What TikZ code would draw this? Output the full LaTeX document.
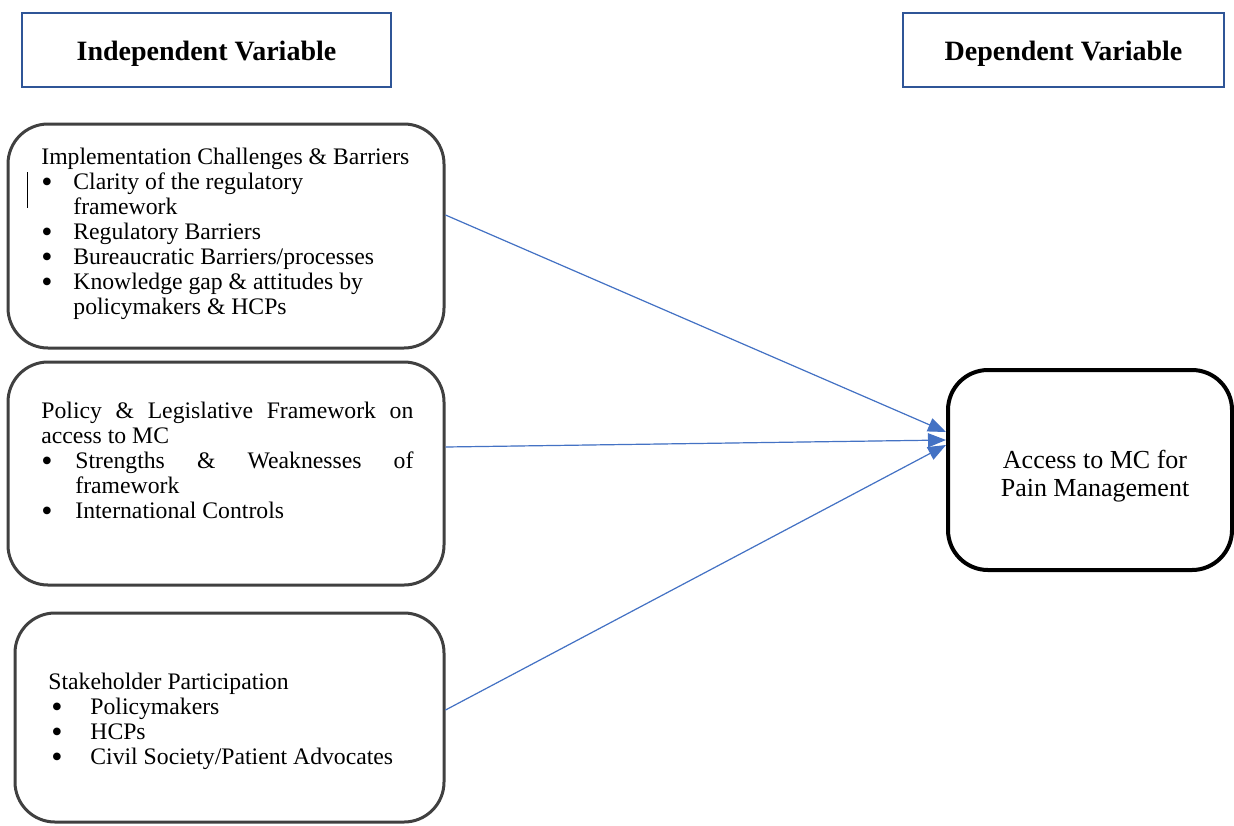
\documentclass[tikz,border=0pt]{standalone}
\usepackage{fontspec}
\usepackage{graphicx}
\setmainfont{Liberation Serif}
\usetikzlibrary{arrows.meta}

\definecolor{headblue}{HTML}{2F5597}
\definecolor{arrowblue}{HTML}{4472C4}
\definecolor{boxgray}{HTML}{404040}
\newcommand{\bul}[1][16pt]{\makebox[#1][l]{\raisebox{-1.2pt}[0pt][0pt]{\scalebox{1.35}{\textbullet}}}}

\begin{document}
\begin{tikzpicture}[x=0.5pt,y=-0.5pt]
	\tikzstyle{varhead}=[draw=headblue, line width=1pt, minimum height=37pt, inner sep=0pt, font=\fontsize{14}{16}\selectfont\bfseries]
	\tikzstyle{factor}=[draw=boxgray, line width=1.5pt, rounded corners=20pt, inner sep=0pt]
	\tikzstyle{itemtext}=[anchor=north west, inner sep=0pt, align=left, font=\fontsize{11.85}{12.5}\selectfont]
	\tikzstyle{link}=[draw=arrowblue, fill=arrowblue, line width=0.6pt, -{Triangle[length=9pt,width=7pt]}]
	\useasboundingbox[fill=white] (0,0) rectangle (1234,825);
	% headings
	\node[varhead, minimum width=184.5pt] (indep) at (206.5,50) {\raisebox{-2pt}[\height][\depth]{Independent Variable}};
	\node[varhead, minimum width=160.5pt] (dep) at (1063.5,50) {\raisebox{-2pt}[\height][\depth]{Dependent Variable}};
	% factor boxes
	\node[factor, minimum width=218pt, minimum height=112pt] (impl) at (226,236) {};
	\node[factor, minimum width=218pt, minimum height=111.5pt] (policy) at (226,473.5) {};
	\node[factor, minimum width=214.5pt, minimum height=104.5pt] (stake) at (229.5,717.5) {};
	\node[draw=black, line width=2pt, rounded corners=20pt, minimum width=142pt, minimum height=100pt, inner sep=0pt] (access) at (1090,470) {};
	% texts
	\node[itemtext] (impltext) at (41,148) {Implementation Challenges \& Barriers\\
		\bul Clarity of the regulatory\\
		\hspace*{16pt}framework\\
		\bul Regulatory Barriers\\
		\bul Bureaucratic Barriers/processes\\
		\bul Knowledge gap \& attitudes by\\
		\hspace*{16pt}policymakers \& HCPs};
	\node[itemtext] (policytext) at (41,402) {\makebox[186pt][s]{Policy \& Legislative Framework on}\\
		access to MC\\
		\bul[17pt]\makebox[169pt][s]{Strengths \& Weaknesses of}\\
		\hspace*{17pt}framework\\
		\bul[17pt]International Controls};
	\node[itemtext] (staketext) at (48,673) {Stakeholder Participation\\
		\hspace*{1.5pt}\bul[19.5pt]Policymakers\\
		\hspace*{1.5pt}\bul[19.5pt]HCPs\\
		\hspace*{1.5pt}\bul[19.5pt]Civil Society/Patient Advocates};
	\node[align=center, inner sep=0pt, font=\fontsize{13}{14}\selectfont] (accesstext) at (1095,476) {Access to MC for\\Pain Management};
	\draw[line width=0.5pt] (27,172) -- (27,208);
	% links
	\draw[link] ([yshift=10.5pt]impl.east) -- ([yshift=19pt]access.west);
	\draw[link] ([yshift=13.25pt]policy.east) -- ([yshift=15pt]access.west);
	\draw[link] ([yshift=3.75pt]stake.east) -- ([yshift=12.5pt]access.west);
\end{tikzpicture}
\end{document}
